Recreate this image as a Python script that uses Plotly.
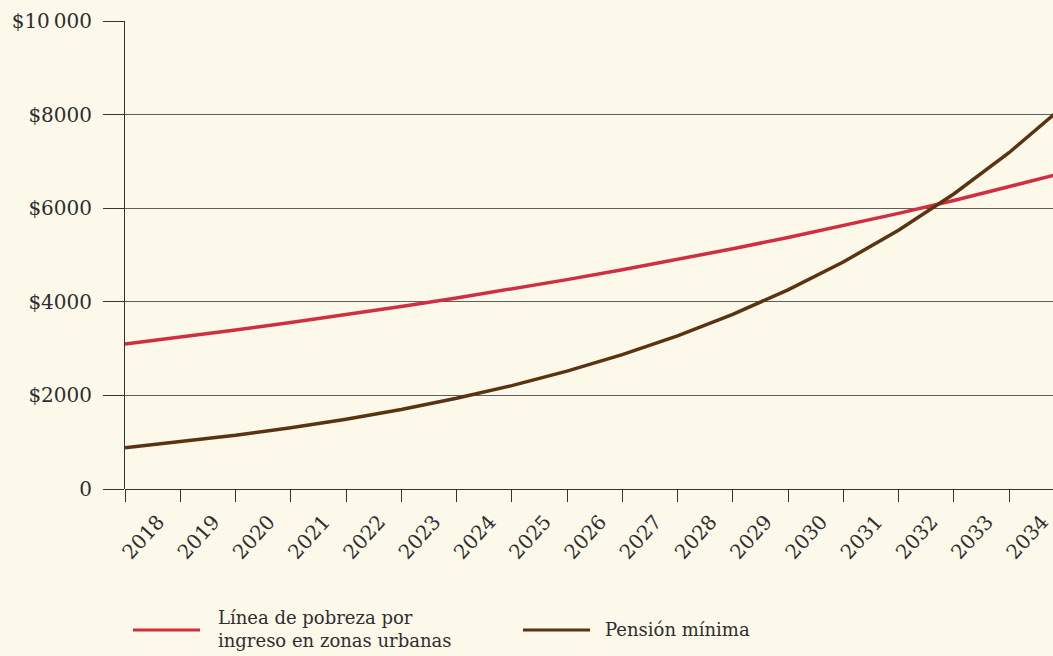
import plotly.graph_objects as go

# values (pesos per month)
years = list(range(2018, 2036))
linea_pobreza = [3100, 3245, 3398, 3557, 3724, 3899, 4082, 4273, 4474,
                 4684, 4903, 5133, 5374, 5626, 5890, 6166, 6455, 6758]
pension_minima = [883, 1007, 1148, 1308, 1491, 1700, 1938, 2209, 2519,
                  2871, 3273, 3732, 4254, 4850, 5529, 6303, 7185, 8191]

tick_years = list(range(2018, 2035))
y_ticks = [0, 2000, 4000, 6000, 8000, 10000]
y_labels = ["0", "$2000", "$4000", "$6000", "$8000", "$10\u2009000"]

name_pobreza = "Línea de pobreza por<br>ingreso en zonas urbanas"
name_pension = "Pensión mínima"

BG = "#fcf8ea"
RED = "#d02f3f"
BROWN = "#5a3410"
TEXT = "#2e2e2e"
FONT = "DejaVu Serif"

fig = go.Figure()
fig.add_trace(go.Scatter(x=years, y=linea_pobreza, mode="lines",
                         name=name_pobreza, line=dict(color=RED, width=3.5)))
fig.add_trace(go.Scatter(x=years, y=pension_minima, mode="lines",
                         name=name_pension, line=dict(color=BROWN, width=3.5)))

fig.update_layout(
    width=1053, height=656,
    margin=dict(l=125, r=0, t=21, b=167),
    paper_bgcolor=BG, plot_bgcolor=BG,
    font=dict(family=FONT, size=20, color=TEXT),
    showlegend=False,
)

fig.update_xaxes(
    range=[2018, 2018 + 928 / 55.25],
    tickvals=tick_years, ticktext=[str(y) for y in tick_years],
    tickangle=-48, ticklabelshift=33, ticklabeloverflow="allow",
    ticks="outside", ticklen=12, tickcolor="#333333", tickwidth=1,
    showgrid=False, showline=False, zeroline=False,
)
fig.update_yaxes(
    range=[0, 10000],
    tickvals=y_ticks, ticktext=y_labels,
    ticks="outside", ticklen=21, tickcolor="#333333", tickwidth=1,
    ticklabelstandoff=7,
    showgrid=True, gridcolor="#5e5e5e", gridwidth=1,
    showline=True, linecolor="#333333", linewidth=1,
    zeroline=True, zerolinecolor="#333333", zerolinewidth=1,
)

# legend drawn by hand so the line samples can be as long as in the reference
legend_items = [
    (RED, 0.0086, 0.0808, 0.0981, name_pobreza),
    (BROWN, 0.4289, 0.5011, 0.5151, name_pension),
]
for color, x0, x1, xt, label in legend_items:
    fig.add_shape(type="line", xref="paper", yref="paper",
                  x0=x0, x1=x1, y0=-0.3013, y1=-0.3013,
                  line=dict(color=color, width=3))
    fig.add_annotation(xref="paper", yref="paper", x=xt, y=-0.3002,
                       xanchor="left", yanchor="middle", align="left",
                       text=label, showarrow=False,
                       font=dict(family=FONT, size=18, color=TEXT))

fig.write_html(
    "out.html",
    config={"displayModeBar": False},
    post_script="document.body.style.margin='0';"
                "document.body.style.background='" + BG + "';",
)
